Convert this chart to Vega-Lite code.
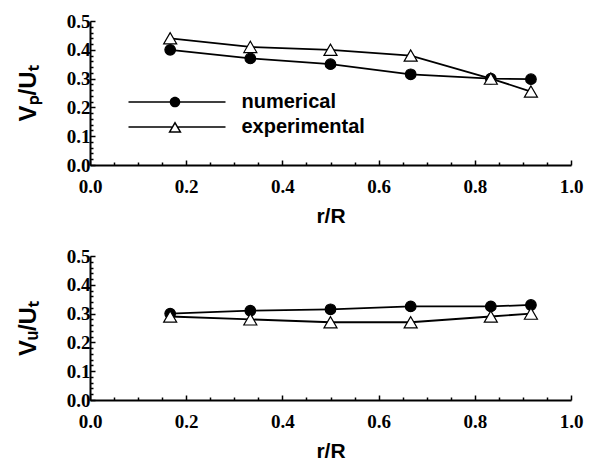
{
  "$schema": "https://vega.github.io/schema/vega-lite/v6.json",
  "padding": {"left": 16, "top": 12, "right": 5, "bottom": 5},
  "background": "white",
  "config": {
    "view": {"stroke": null},
    "axis": {
      "grid": false,
      "domainColor": "black",
      "domainWidth": 2,
      "tickColor": "black",
      "tickWidth": 1.5,
      "labelFont": "Liberation Serif",
      "labelFontWeight": "bold",
      "labelFontSize": 19,
      "labelColor": "black",
      "labelOverlap": false,
      "labelFlush": false,
      "titleFont": "Liberation Sans",
      "titleFontWeight": "bold",
      "titleColor": "black"
    },
    "axisX": {"titleFontSize": 21, "labelPadding": 17, "titlePadding": 7},
    "axisY": {"titleFontSize": 24, "labelPadding": 5, "titlePadding": 26}
  },
  "resolve": {"legend": {"shape": "independent", "fill": "independent", "size": "independent"}},
  "datasets": {
    "d": [
      {"panel": "p", "series": "numerical", "r": 0.1667, "v": 0.40},
      {"panel": "p", "series": "numerical", "r": 0.3333, "v": 0.37},
      {"panel": "p", "series": "numerical", "r": 0.5, "v": 0.35},
      {"panel": "p", "series": "numerical", "r": 0.6667, "v": 0.315},
      {"panel": "p", "series": "numerical", "r": 0.8333, "v": 0.30},
      {"panel": "p", "series": "numerical", "r": 0.9167, "v": 0.298},
      {"panel": "p", "series": "experimental", "r": 0.1667, "v": 0.44},
      {"panel": "p", "series": "experimental", "r": 0.3333, "v": 0.41},
      {"panel": "p", "series": "experimental", "r": 0.5, "v": 0.40},
      {"panel": "p", "series": "experimental", "r": 0.6667, "v": 0.38},
      {"panel": "p", "series": "experimental", "r": 0.8333, "v": 0.30},
      {"panel": "p", "series": "experimental", "r": 0.9167, "v": 0.255},
      {"panel": "u", "series": "numerical", "r": 0.1667, "v": 0.30},
      {"panel": "u", "series": "numerical", "r": 0.3333, "v": 0.31},
      {"panel": "u", "series": "numerical", "r": 0.5, "v": 0.315},
      {"panel": "u", "series": "numerical", "r": 0.6667, "v": 0.325},
      {"panel": "u", "series": "numerical", "r": 0.8333, "v": 0.325},
      {"panel": "u", "series": "numerical", "r": 0.9167, "v": 0.33},
      {"panel": "u", "series": "experimental", "r": 0.1667, "v": 0.29},
      {"panel": "u", "series": "experimental", "r": 0.3333, "v": 0.28},
      {"panel": "u", "series": "experimental", "r": 0.5, "v": 0.27},
      {"panel": "u", "series": "experimental", "r": 0.6667, "v": 0.27},
      {"panel": "u", "series": "experimental", "r": 0.8333, "v": 0.29},
      {"panel": "u", "series": "experimental", "r": 0.9167, "v": 0.30}
    ]
  },
  "spacing": 21,
  "vconcat": [
    {
      "width": 481,
      "height": 144,
      "data": {"name": "d"},
      "transform": [{"filter": "datum.panel == 'p'"}],
      "resolve": {"scale": {"shape": "independent", "fill": "independent"}},
      "encoding": {
        "x": {
          "field": "r", "type": "quantitative",
          "scale": {"domain": [0, 1], "nice": false},
          "axis": {
            "title": "r/R",
            "values": [0,0.05,0.1,0.15,0.2,0.25,0.3,0.35,0.4,0.45,0.5,0.55,0.6,0.65,0.7,0.75,0.8,0.85,0.9,0.95,1.0],
            "labelExpr": "round(datum.value*20) % 4 == 0 ? format(datum.value, '.1f') : ''",
            "tickSize": {"condition": {"test": "round(datum.value*20) % 4 == 0", "value": -5}, "value": -3}
          }
        },
        "y": {
          "field": "v", "type": "quantitative",
          "scale": {"domain": [0, 0.5], "nice": false},
          "axis": {
            "title": "Vₚ/Uₜ",
            "values": [0,0.02,0.04,0.06,0.08,0.1,0.12,0.14,0.16,0.18,0.2,0.22,0.24,0.26,0.28,0.3,0.32,0.34,0.36,0.38,0.4,0.42,0.44,0.46,0.48,0.5],
            "labelExpr": "round(datum.value*50) % 5 == 0 ? format(datum.value, '.1f') : ''",
            "tickSize": {"condition": {"test": "round(datum.value*50) % 5 == 0", "value": -5}, "value": -3}
          }
        }
      },
      "layer": [
        {
          "mark": {"type": "line", "color": "black", "strokeWidth": 1.8},
          "encoding": {"detail": {"field": "series"}}
        },
        {
          "mark": {"type": "point", "filled": true, "stroke": "black", "strokeWidth": 1.2, "opacity": 1},
          "encoding": {
            "shape": {
              "field": "series", "type": "nominal",
              "scale": {"domain": ["numerical", "experimental"], "range": ["circle", "triangle-up"]},
              "legend": null
            },
            "fill": {
              "field": "series", "type": "nominal",
              "scale": {"domain": ["numerical", "experimental"], "range": ["black", "white"]},
              "legend": null
            },
            "size": {
              "field": "series", "type": "nominal",
              "scale": {"domain": ["numerical", "experimental"], "range": [112, 170]},
              "legend": null
            }
          }
        },
        {
          "mark": {"type": "point", "filled": true, "opacity": 0},
          "encoding": {
            "shape": {
              "field": "series", "type": "nominal",
              "scale": {
                "domain": ["numerical", "experimental"],
                "range": [
                  "M0,-0.16L19.4,-0.16L19.4,0.16L0,0.16Z M8.24,0A1.06,1.06 0 1,1 10.36,0A1.06,1.06 0 1,1 8.24,0Z",
                  "M0,-0.16L8.66,-0.16L8.66,0.16L0,0.16Z M9.94,-0.16L19.4,-0.16L19.4,0.16L9.94,0.16Z M9.3,-1.16L10.64,1.16L7.96,1.16Z M9.3,-0.56L8.48,0.86L10.12,0.86Z"
                ]
              },
              "legend": {
                "title": null,
                "orient": "none",
                "legendX": 28.5,
                "legendY": 71,
                "symbolSize": 100,
                "symbolOpacity": 1,
                "symbolStrokeWidth": 0,
                "labelFont": "Liberation Sans",
                "labelFontWeight": "bold",
                "labelFontSize": 20,
                "labelColor": "black",
                "labelOffset": 103,
                "rowPadding": 5
              }
            },
            "fill": {
              "field": "series", "type": "nominal",
              "scale": {"domain": ["numerical", "experimental"], "range": ["black", "black"]}
            }
          }
        }
      ]
    },
    {
      "width": 481,
      "height": 144,
      "data": {"name": "d"},
      "transform": [{"filter": "datum.panel == 'u'"}],
      "encoding": {
        "x": {
          "field": "r", "type": "quantitative",
          "scale": {"domain": [0, 1], "nice": false},
          "axis": {
            "title": "r/R",
            "values": [0,0.05,0.1,0.15,0.2,0.25,0.3,0.35,0.4,0.45,0.5,0.55,0.6,0.65,0.7,0.75,0.8,0.85,0.9,0.95,1.0],
            "labelExpr": "round(datum.value*20) % 4 == 0 ? format(datum.value, '.1f') : ''",
            "tickSize": {"condition": {"test": "round(datum.value*20) % 4 == 0", "value": -5}, "value": -3}
          }
        },
        "y": {
          "field": "v", "type": "quantitative",
          "scale": {"domain": [0, 0.5], "nice": false},
          "axis": {
            "title": "Vᵤ/Uₜ",
            "values": [0,0.02,0.04,0.06,0.08,0.1,0.12,0.14,0.16,0.18,0.2,0.22,0.24,0.26,0.28,0.3,0.32,0.34,0.36,0.38,0.4,0.42,0.44,0.46,0.48,0.5],
            "labelExpr": "round(datum.value*50) % 5 == 0 ? format(datum.value, '.1f') : ''",
            "tickSize": {"condition": {"test": "round(datum.value*50) % 5 == 0", "value": -5}, "value": -3}
          }
        }
      },
      "layer": [
        {
          "mark": {"type": "line", "color": "black", "strokeWidth": 1.8},
          "encoding": {"detail": {"field": "series"}}
        },
        {
          "mark": {"type": "point", "filled": true, "stroke": "black", "strokeWidth": 1.2, "opacity": 1},
          "encoding": {
            "shape": {
              "field": "series", "type": "nominal",
              "scale": {"domain": ["numerical", "experimental"], "range": ["circle", "triangle-up"]},
              "legend": null
            },
            "fill": {
              "field": "series", "type": "nominal",
              "scale": {"domain": ["numerical", "experimental"], "range": ["black", "white"]},
              "legend": null
            },
            "size": {
              "field": "series", "type": "nominal",
              "scale": {"domain": ["numerical", "experimental"], "range": [112, 170]},
              "legend": null
            }
          }
        }
      ]
    }
  ]
}
